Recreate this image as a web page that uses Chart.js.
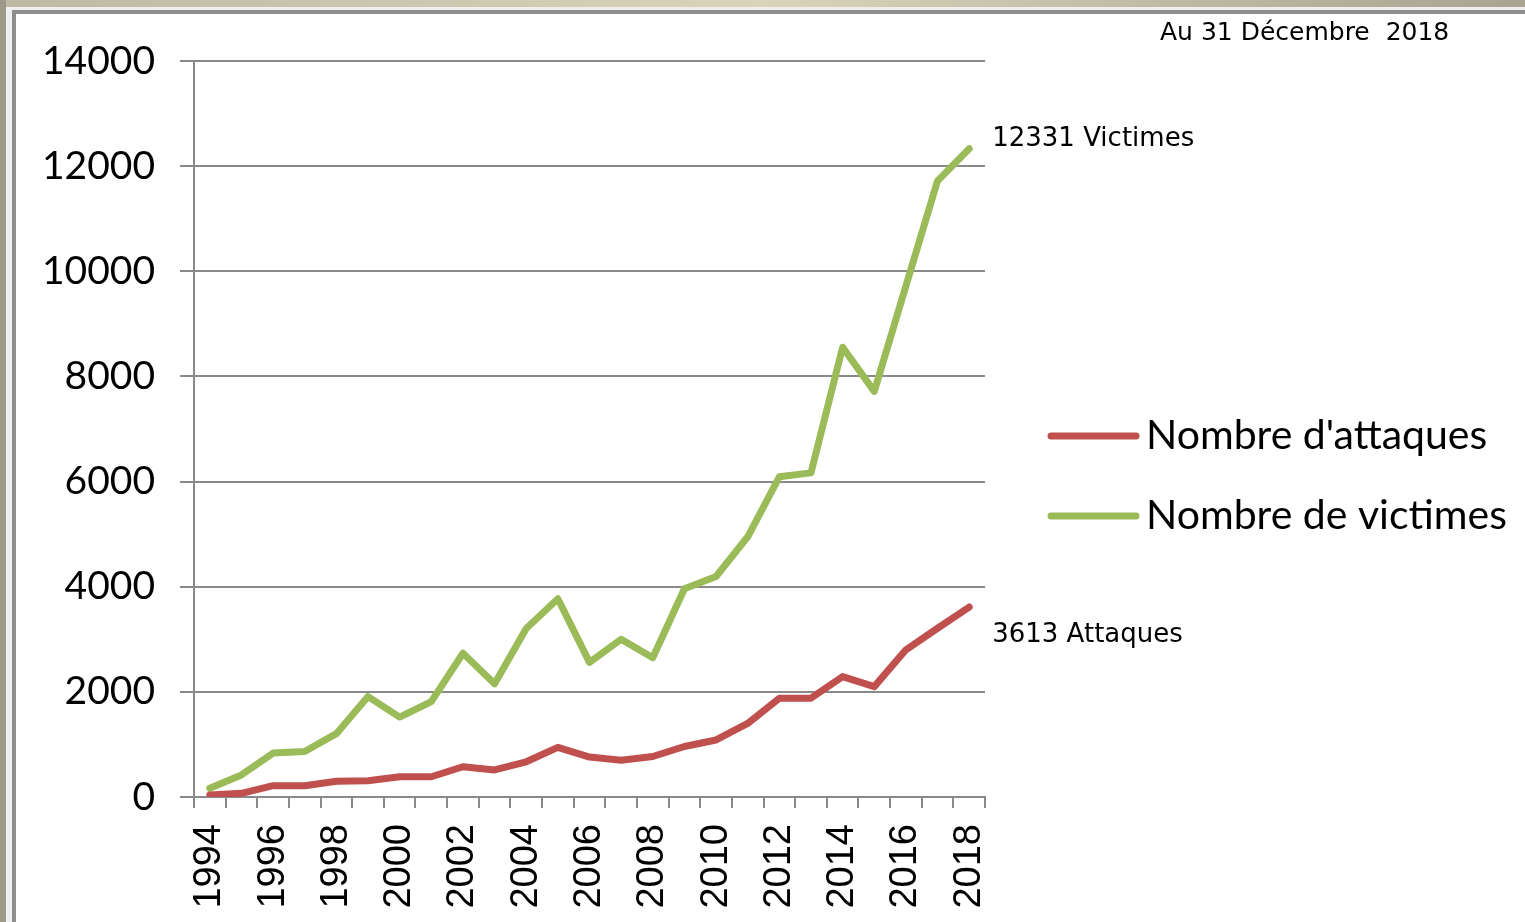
<!DOCTYPE html>
<html>
<head>
<meta charset="utf-8">
<script src="https://cdn.jsdelivr.net/npm/chart.js@4.4.1/dist/chart.umd.min.js"></script>
<style>
  html, body { margin: 0; padding: 0; }
  body { width: 1525px; height: 922px; position: relative; overflow: hidden; background: #f0f0f0; }
  #topstrip { position: absolute; left: 0; top: 0; width: 1525px; height: 7px;
    background: linear-gradient(to right, #bdb9a3, #d9d3ba 50%, #a8a491); }
  #leftstrip { position: absolute; left: 0; top: 0; width: 6px; height: 922px; background: #9e9a89; }
  #panel { position: absolute; left: 12px; top: 10px; right: 0; bottom: 0;
    border-left: 4px solid #8e8e8e; border-top: 4px solid #8e8e8e; background: #fff; }
  #wrap { position: absolute; left: 0; top: 0; width: 1525px; height: 922px; }
</style>
</head>
<body>
<div id="topstrip"></div>
<div id="leftstrip"></div>
<div id="panel"></div>
<div id="wrap"><canvas id="myChart" width="1525" height="922"></canvas></div>
<script>
const ctx = document.getElementById('myChart');

// data
const years = ['1994','1995','1996','1997','1998','1999','2000','2001','2002','2003','2004','2005','2006',
  '2007','2008','2009','2010','2011','2012','2013','2014','2015','2016','2017','2018'];
const attaques = [40, 70, 215, 215, 300, 310, 385, 385, 575, 515, 670, 945, 760,
  700, 770, 960, 1085, 1400, 1880, 1880, 2290, 2100, 2800, 3210, 3613];
const victimes = [165, 420, 835, 865, 1205, 1910, 1520, 1815, 2735, 2155, 3205, 3770, 2560,
  3000, 2650, 3960, 4195, 4950, 6090, 6165, 8555, 7715, 9720, 11720, 12331];
const yTicks = [0, 2000, 4000, 6000, 8000, 10000, 12000, 14000];

const RED = '#c0504d';
const GREEN = '#9bbb59';
const GRID = '#8a8a8a';
const note_font = '26px "DejaVu Sans"';

// legend on the right, drawn by hand
const sideLegend = {
  id: 'sideLegend',
  afterDraw(chart){
    const c = chart.ctx;
    const rows = [436, 516];
    c.save();
    chart.data.datasets.forEach(function(ds, i){
      c.strokeStyle = ds.borderColor;
      c.lineWidth = 7;
      c.lineCap = 'round';
      c.beginPath();
      c.moveTo(1051, rows[i]);
      c.lineTo(1136, rows[i]);
      c.stroke();
      c.fillStyle = '#000';
      c.font = '41px Lato';
      c.textBaseline = 'middle';
      c.textAlign = 'left';
      c.fillText(ds.label, 1146, rows[i]);
    });
    c.restore();
  }
};

// end-of-line notes + date
const notes = {
  id: 'notes',
  afterDraw(chart){
    const c = chart.ctx;
    const xs = chart.scales.x, ys = chart.scales.y;
    const last = years.length - 1;
    c.save();
    c.fillStyle = '#000';
    c.font = note_font;
    c.textAlign = 'left';
    c.textBaseline = 'middle';
    c.fillText(victimes[last] + ' Victimes', xs.getPixelForValue(last) + 23, ys.getPixelForValue(victimes[last]) - 9);
    c.fillText(attaques[last] + ' Attaques', xs.getPixelForValue(last) + 23, ys.getPixelForValue(attaques[last]) + 28);
    c.font = '25px "DejaVu Sans"';
    c.fillText('Au 31 Décembre  2018', 1160, 33);
    c.restore();
  }
};

const config = {
  type: 'line',
  data: {
    labels: years,
    datasets: [
      { label: "Nombre d'attaques", data: attaques, borderColor: RED, backgroundColor: RED,
        borderWidth: 7, pointRadius: 0, tension: 0, borderCapStyle: 'round', borderJoinStyle: 'round' },
      { label: 'Nombre de victimes', data: victimes, borderColor: GREEN, backgroundColor: GREEN,
        borderWidth: 7, pointRadius: 0, tension: 0, borderCapStyle: 'round', borderJoinStyle: 'round' }
    ]
  },
  options: {
    responsive: false,
    animation: false,
    layout: { padding: { left: 0, top: 61, right: 540, bottom: 0 } },
    plugins: { legend: { display: false }, tooltip: { enabled: false } },
    scales: {
      x: {
        offset: true,
        grid: { drawOnChartArea: false, drawTicks: true, tickLength: 11, offset: true, color: GRID, lineWidth: 2 },
        border: { color: GRID, width: 2 },
        ticks: {
          autoSkip: false, minRotation: 90, maxRotation: 90, padding: 16,
          color: '#000', font: { family: 'Liberation Sans', size: 38 },
          callback: function(val, index){
            return index % 2 === 0 ? this.getLabelForValue(val) : '';
          }
        },
        afterFit: function(s){ s.height = 125; }
      },
      y: {
        min: 0, max: 14000,
        afterBuildTicks: function(s){ s.ticks = yTicks.map(function(v){ return { value: v }; }); },
        grid: { color: GRID, lineWidth: 2, tickLength: 14 },
        border: { color: GRID, width: 2 },
        ticks: { padding: 25, color: '#000', font: { family: 'Lato', size: 39 },
          callback: function(v){ return String(v); } },
        afterFit: function(s){ s.width = 194; }
      }
    }
  },
  plugins: [sideLegend, notes]
};

let c2 = new Chart(ctx, config);
</script>
</body>
</html>
